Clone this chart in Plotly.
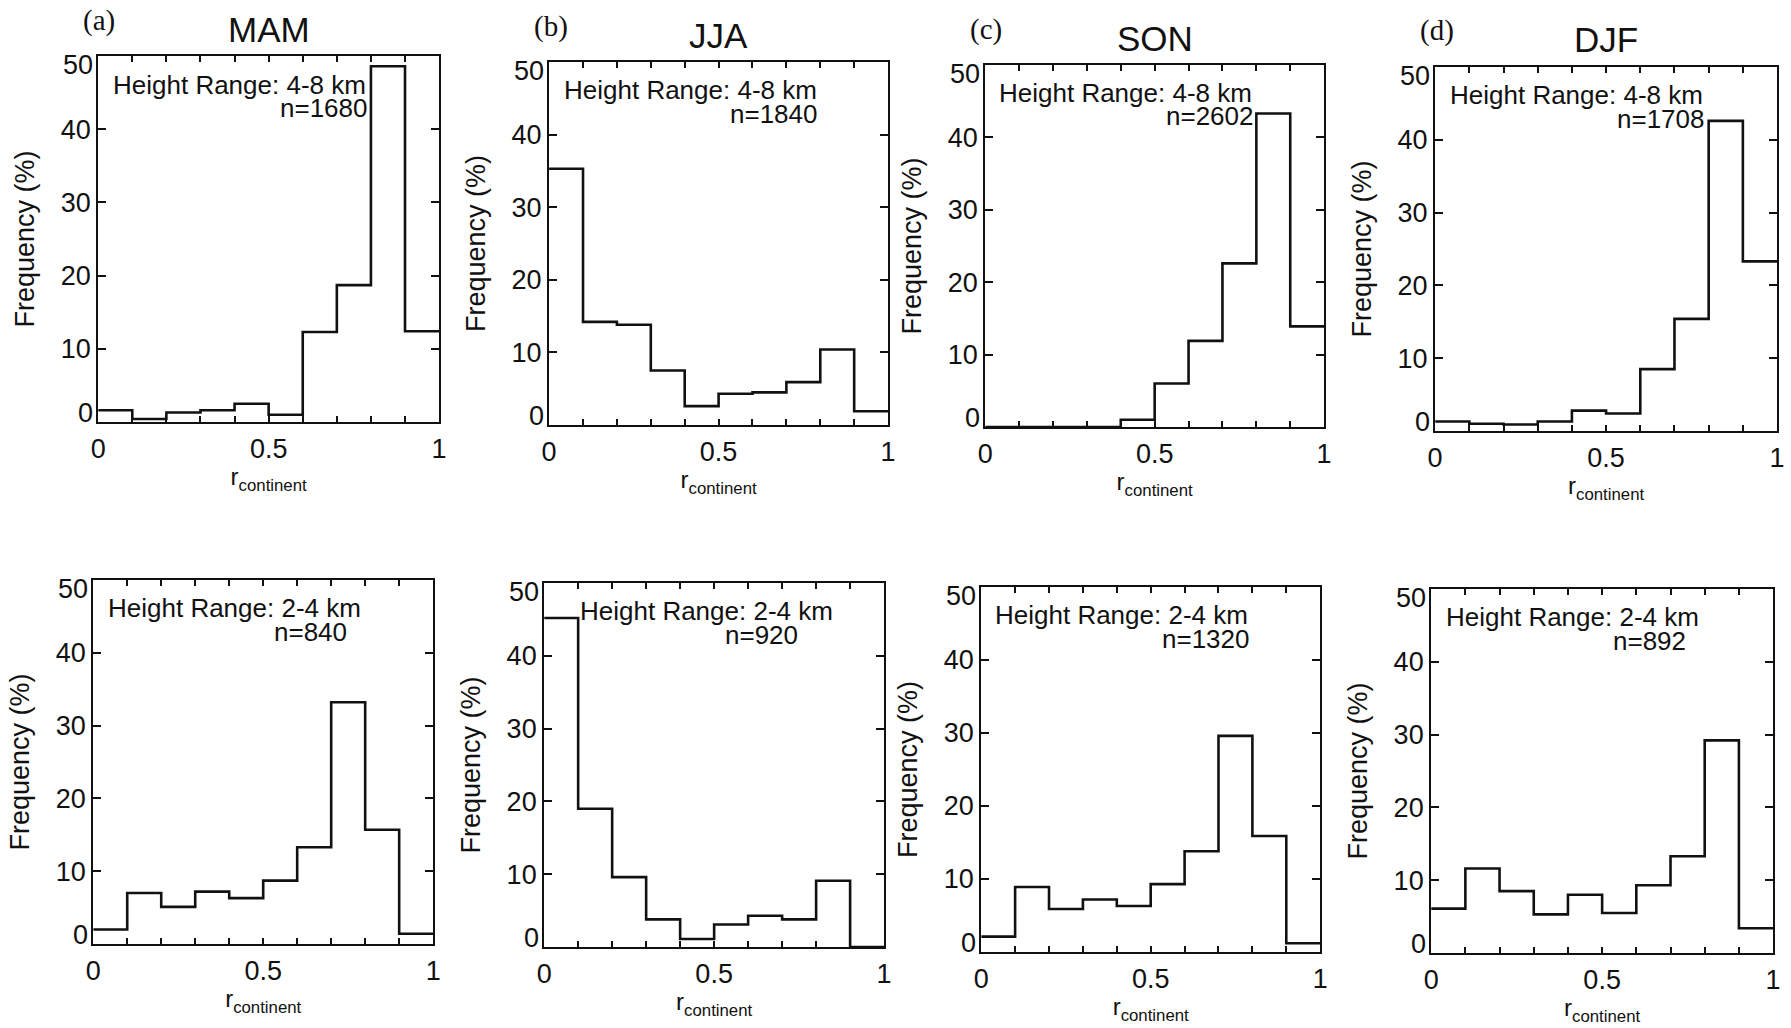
import plotly.graph_objects as go

# Histogram bin edges of r_continent
bin_edges = [0.0, 0.1, 0.2, 0.3, 0.4, 0.5, 0.6, 0.7, 0.8, 0.9, 1.0]

seasons = ["MAM", "JJA", "SON", "DJF"]
panel_tags = ["(a)", "(b)", "(c)", "(d)"]

# Frequency (%) per bin, height range 4-8 km
mam_4_8 = [1.6, 0.4, 1.3, 1.6, 2.5, 1.0, 12.3, 18.7, 48.6, 12.4]
jja_4_8 = [35.3, 14.2, 13.8, 7.5, 2.6, 4.3, 4.5, 5.9, 10.4, 1.9]
son_4_8 = [0.0, 0.0, 0.0, 0.0, 1.0, 6.0, 11.9, 22.6, 43.3, 13.9]
djf_4_8 = [1.3, 1.0, 0.9, 1.3, 2.8, 2.4, 8.5, 15.4, 42.6, 23.3]

# Frequency (%) per bin, height range 2-4 km
mam_2_4 = [2.0, 7.0, 5.1, 7.2, 6.3, 8.7, 13.3, 33.2, 15.7, 1.4]
jja_2_4 = [45.2, 19.0, 9.6, 3.8, 1.1, 3.1, 4.3, 3.8, 9.1, 0.0]
son_2_4 = [2.1, 8.9, 5.9, 7.2, 6.3, 9.3, 13.8, 29.6, 15.9, 1.2]
djf_2_4 = [6.1, 11.6, 8.5, 5.3, 8.0, 5.5, 9.3, 13.3, 29.2, 3.4]

# Sample counts
n_4_8 = [1680, 1840, 2602, 1708]
n_2_4 = [840, 920, 1320, 892]

height_labels = ["Height Range: 4-8 km", "Height Range: 2-4 km"]

x_tick_vals = bin_edges
x_tick_text = ["0", "", "", "", "", "0.5", "", "", "", "", "1"]
y_tick_vals = [0, 10, 20, 30, 40, 50]
y_tick_text = ["", "10", "20", "30", "40", ""]

# ---- layout geometry (pixels on a 1791 x 1028 canvas) ----
W, H = 1791, 1028
# (left, right, top, bottom) of each plotting box
boxes = [
    (91, 435, 56, 422), (546, 888, 62, 425), (986, 1328, 65, 427), (1440, 1785, 67, 431),
    (86, 429, 580, 944), (541, 884, 583, 947), (982, 1324, 587, 952), (1436, 1781, 589, 953),
]
# left edge (data x) of the "Height Range" label per panel
label_x = [0.037, 0.037, 0.035, 0.037, 0.037, 0.101, 0.035, 0.037]
n_label_x = 0.527

SANS = "Liberation Sans, Arial, Helvetica, sans-serif"
SERIF = "Liberation Serif, Times New Roman, serif"
BLACK = "#111111"

series = [mam_4_8, jja_4_8, son_4_8, djf_4_8, mam_2_4, jja_2_4, son_2_4, djf_2_4]
counts = n_4_8 + n_2_4

fig = go.Figure()
layout = dict(
    width=W, height=H,
    margin=dict(l=0, r=0, t=0, b=0),
    paper_bgcolor="white", plot_bgcolor="white",
    showlegend=False,
    font=dict(family=SANS, color=BLACK),
)
annotations = []

for i, vals in enumerate(series):
    k = i + 1
    xa = "x" if k == 1 else f"x{k}"
    ya = "y" if k == 1 else f"y{k}"
    left, right, top, bottom = boxes[i]

    # step outline of the histogram
    fig.add_trace(go.Scatter(
        x=bin_edges, y=vals + [vals[-1]],
        mode="lines", line=dict(shape="hv", color=BLACK, width=2.6),
        xaxis=xa, yaxis=ya, hoverinfo="skip", cliponaxis=True,
    ))

    layout["xaxis" if k == 1 else f"xaxis{k}"] = dict(
        domain=[left / W, right / W], anchor=ya, range=[0, 1],
        tickmode="array", tickvals=x_tick_vals, ticktext=x_tick_text,
        ticks="inside", ticklen=6, tickwidth=1.6, tickcolor=BLACK,
        showline=True, linewidth=2.2, linecolor=BLACK, mirror="ticks",
        showgrid=False, zeroline=False,
        tickfont=dict(size=27, family=SANS, color=BLACK),
        ticklabelstandoff=1,
        title=dict(text="r<sub>continent</sub>", font=dict(size=24, family=SANS, color=BLACK),
                   standoff=6),
    )
    layout["yaxis" if k == 1 else f"yaxis{k}"] = dict(
        domain=[1 - bottom / H, 1 - top / H], anchor=xa, range=[0, 50],
        tickmode="array", tickvals=y_tick_vals, ticktext=y_tick_text,
        ticks="inside", ticklen=8, tickwidth=1.6, tickcolor=BLACK,
        showline=True, linewidth=2.2, linecolor=BLACK, mirror="ticks",
        showgrid=False, zeroline=False,
        tickfont=dict(size=27, family=SANS, color=BLACK),
        title=dict(text="Frequency (%)", font=dict(size=27, family=SANS, color=BLACK),
                   standoff=18),
    )

    # end labels of the frequency axis sit slightly inside the box
    for yv, txt, shift in [(0, "0", 9), (50, "50", -9)]:
        annotations.append(dict(
            xref=f"{xa} domain", yref=ya, x=0, y=yv, xshift=-3, yshift=shift,
            xanchor="right", yanchor="middle", showarrow=False, text=txt,
            font=dict(size=27, family=SANS, color=BLACK),
        ))

    # height range and sample size
    annotations.append(dict(
        xref=xa, yref=ya, x=label_x[i], y=46.1, xanchor="left", yanchor="middle",
        showarrow=False, text=height_labels[0 if i < 4 else 1],
        font=dict(size=26, family=SANS, color=BLACK),
    ))
    annotations.append(dict(
        xref=xa, yref=ya, x=n_label_x, y=42.9, xanchor="left", yanchor="middle",
        showarrow=False, text=f"n={counts[i]}",
        font=dict(size=26, family=SANS, color=BLACK),
    ))

    # season titles and panel tags on the top row
    if i < 4:
        annotations.append(dict(
            xref=f"{xa} domain", yref=f"{ya} domain", x=0.5, y=1, yshift=27,
            xanchor="center", yanchor="middle", showarrow=False, text=seasons[i],
            font=dict(size=35, family=SANS, color=BLACK),
        ))
        annotations.append(dict(
            xref=f"{xa} domain", yref=f"{ya} domain", x=0, y=1, xshift=-17, yshift=36,
            xanchor="left", yanchor="middle", showarrow=False, text=panel_tags[i],
            font=dict(size=29, family=SERIF, color=BLACK),
        ))

layout["annotations"] = annotations
fig.update_layout(**layout)
fig.write_html("out.html")
